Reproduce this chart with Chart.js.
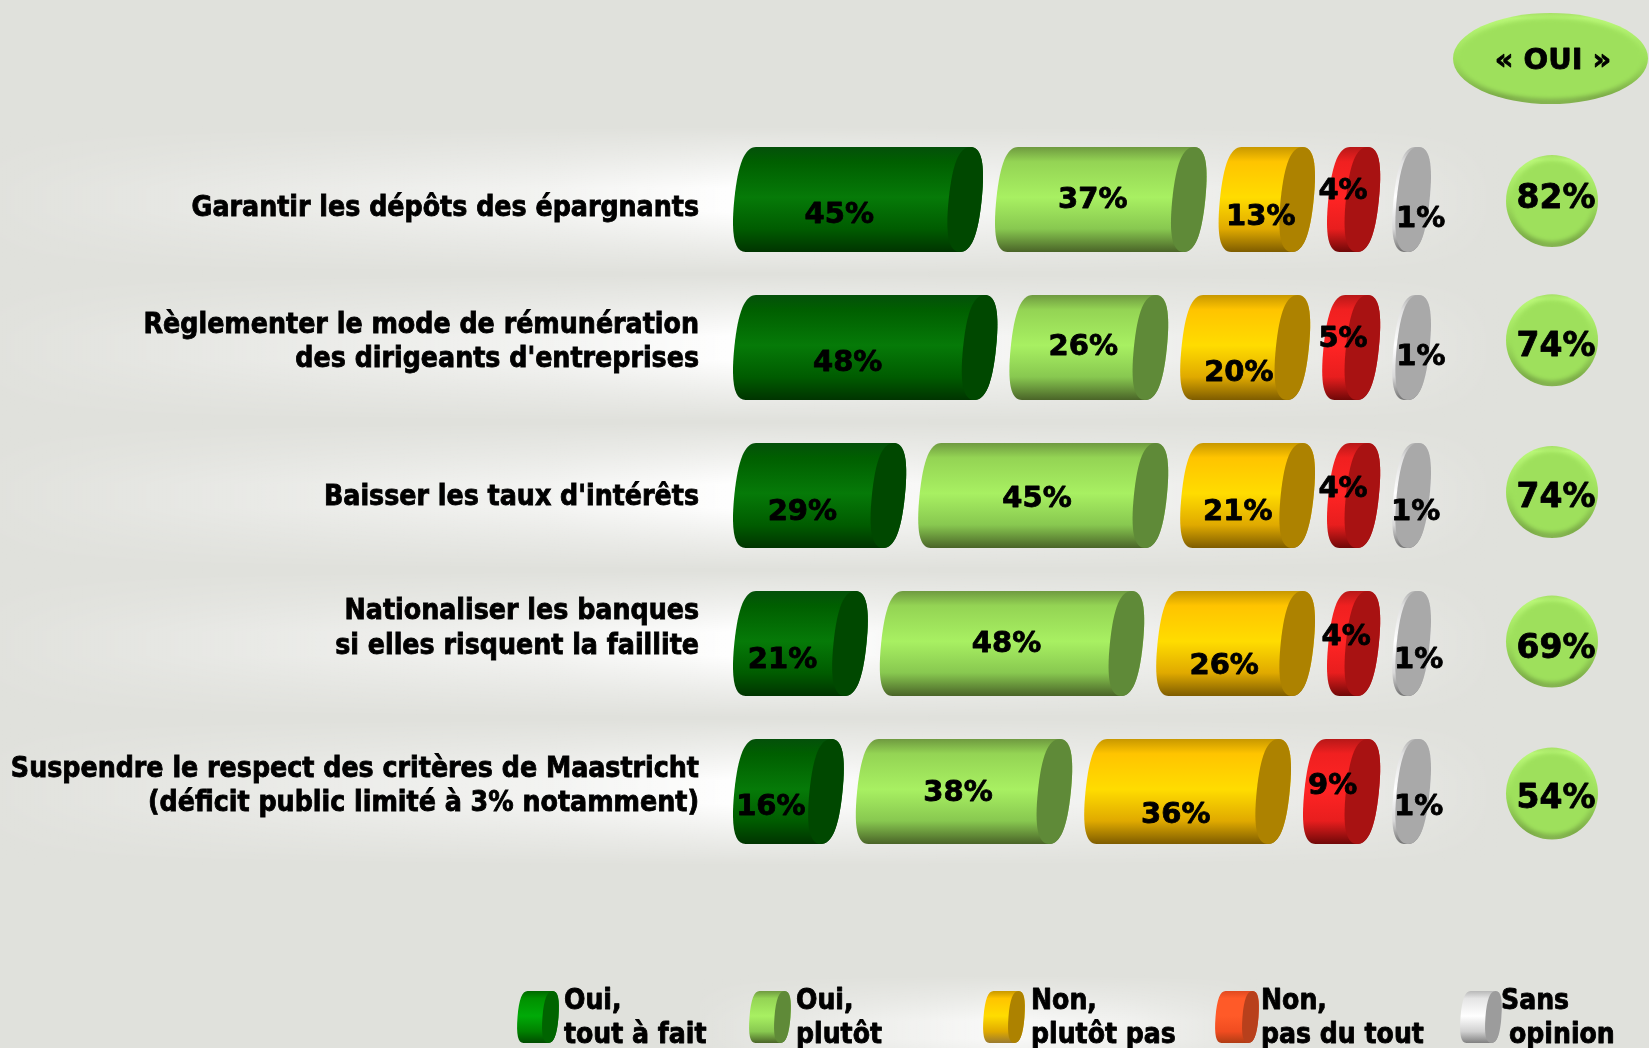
<!DOCTYPE html>
<html lang="fr">
<head>
<meta charset="utf-8">
<title>Mesures bancaires</title>
<style>html,body{margin:0;padding:0;background:#e0e1dc;overflow:hidden}canvas{display:block}</style>
<script src="https://cdn.jsdelivr.net/npm/chart.js@4"></script>
</head>
<body>
<canvas id="c" width="1649" height="1048"></canvas>
<script>
// ---- data ----
const categories = [
  ["Garantir les dépôts des épargnants"],
  ["Règlementer le mode de rémunération", "des dirigeants d'entreprises"],
  ["Baisser les taux d'intérêts"],
  ["Nationaliser les banques", "si elles risquent la faillite"],
  ["Suspendre le respect des critères de Maastricht", "(déficit public limité à 3% notamment)"]
];
const ouiToutAFait = [45, 48, 29, 21, 16];
const ouiPlutot    = [37, 26, 45, 48, 38];
const nonPlutotPas = [13, 20, 21, 26, 36];
const nonPasDuTout = [4, 5, 4, 4, 9];
const sansOpinion  = [1, 1, 1, 1, 1];
const totalOui     = [82, 74, 74, 69, 54];
const seriesNames  = ["Oui, tout à fait", "Oui, plutôt", "Non, plutôt pas", "Non, pas du tout", "Sans opinion"];
const legendLines  = [["Oui,", "tout à fait"], ["Oui,", "plutôt"], ["Non,", "plutôt pas"], ["Non,", "pas du tout"], ["Sans", "opinion"]];
const headerText   = "« OUI »";

// ---- styling ----
const series = [ouiToutAFait, ouiPlutot, nonPlutotPas, nonPasDuTout, sansOpinion];
const baseColors = ["#006e04", "#a4ec60", "#ffd000", "#ff2020", "#e8e8e8"];
const themes = {
  "#006e04": {stops:["#04500a","#005f00","#067a08","#005c00","#003400"], cap:"#004800"},
  "#a4ec60": {stops:["#6f9a40","#94d454","#a8f062","#88c850","#4a6428"], cap:"#5f8a38"},
  "#ffd000": {stops:["#c89800","#ffc400","#ffdc00","#e0aa00","#7e5c00"], cap:"#ad8200"},
  "#ff2020": {stops:["#b81818","#f02020","#ff2424","#e81e1e","#700808"], cap:"#a81212"},
  "#e8e8e8": {stops:["#b0b0b0","#e0e0e0","#ffffff","#d8d8d8","#707070"], cap:"#a9a9a9"}
};
const legendThemes = [
  {stops:["#006800","#009000","#00aa08","#008000","#004c00"], cap:"#006400"},
  {stops:["#6f9a40","#94d454","#a8f062","#88c850","#4a6428"], cap:"#5f8a38"},
  {stops:["#c89800","#ffc400","#ffdc00","#e0aa00","#9a7a30"], cap:"#ad8200"},
  {stops:["#e04a20","#ff5a28","#ff5a28","#f04c20","#b03c14"], cap:"#b8401c"},
  {stops:["#b8b8b8","#e4e4e4","#ffffff","#d0d0d0","#808080"], cap:"#9c9c9c"}
];
const pxPerUnit = 4.8, capPx = 34, gapPx = 12, plotLeft = 733;
const capUnits = capPx / pxPerUnit, gapUnits = gapPx / pxPerUnit;
const xMax = (1649 - plotLeft) / pxPerUnit;
const categoryFont = "'DejaVu Sans Condensed'";
const tickNudge = [9, -5, 2.5, -14.5, -5];
// label offsets from each bar's middle (rows × series), as placed in the picture
const labelDx = [[-18.7,-8,-6,-10.6,9],[-17.5,-5.5,-6.3,-8.2,9.3],[-17.2,-6.2,-9.8,-10.6,4],[-17.9,-5.5,-11.4,-7.4,7],[-17.5,-6,-11.8,-9,7]];
const labelDy = [[16,1,18,-8,20],[16,0,26,-8,9.5],[16.5,4,16.5,-6.5,16.5],[17,1,23,-6,17],[16,2,24,-5.5,16]];
const circleDy = [1.4, -7.3, -3.5, -2, 2];
const circleTextDy = [-1, 7.4, 6.4, 8.4, 6.4];
const circleX = 1552, circleR = 46;
const legendIconX = [[517,559],[749,791],[983,1025],[1215,1259],[1460,1502]];
const legendTextX = [[564,564],[796,796],[1031,1031],[1261,1261],[1501,1509]];

// floating ranges for the bars: each bar holds its value plus the round end, with a gap before the next
const ranges = series.map(() => []);
categories.forEach((_, r) => {
  let cum = 0;
  series.forEach((s, i) => {
    const start = cum + i * (capUnits + gapUnits);
    ranges[i].push([start, start + s[r] + capUnits]);
    cum += s[r];
  });
});

function heavyText(ctx, text, x, y) {
  ctx.lineWidth = 0.8;
  ctx.strokeStyle = "#000";
  ctx.lineJoin = "round";
  ctx.strokeText(text, x, y);
  ctx.fillText(text, x, y);
}

const KAPPA = 0.68;
function rightArc(ctx, cx, rx, ry) {
  ctx.bezierCurveTo(cx + rx * KAPPA, -ry, cx + rx, -ry * KAPPA, cx + rx, 0);
  ctx.bezierCurveTo(cx + rx, ry * KAPPA, cx + rx * KAPPA, ry, cx, ry);
}
function leftArc(ctx, cx, rx, ry) {
  ctx.bezierCurveTo(cx - rx * KAPPA, ry, cx - rx, ry * KAPPA, cx - rx, 0);
  ctx.bezierCurveTo(cx - rx, -ry * KAPPA, cx - rx * KAPPA, -ry, cx, -ry);
}

function cylinder(ctx, x0, x1, cy, H, theme, rx, k) {
  const e = rx + k * H / 8;
  const xa = x0 + e, xb = Math.max(x1 - e, xa);
  const ry = H / 2;
  ctx.save();
  ctx.translate(0, cy);
  ctx.transform(1, 0, -k, 1, 0, 0);
  const g = ctx.createLinearGradient(0, -ry, 0, ry);
  [0, 0.14, 0.48, 0.78, 1].forEach((p, i) => g.addColorStop(p, theme.stops[i]));
  ctx.beginPath();
  ctx.moveTo(xa, -ry);
  ctx.lineTo(xb, -ry);
  rightArc(ctx, xb, rx, ry);
  ctx.lineTo(xa, ry);
  leftArc(ctx, xa, rx, ry);
  ctx.closePath();
  ctx.fillStyle = g;
  ctx.fill();
  ctx.beginPath();
  ctx.moveTo(xb, -ry);
  rightArc(ctx, xb, rx, ry);
  leftArc(ctx, xb, rx, ry);
  ctx.closePath();
  ctx.fillStyle = theme.cap;
  ctx.fill();
  ctx.restore();
}

// the library's bar element draws a cylinder from its own computed geometry
Chart.BarElement.prototype.draw = function (ctx) {
  const {x, y, base, height} = this.getProps(["x", "y", "base", "height"]);
  const theme = themes[this.options.backgroundColor];
  cylinder(ctx, Math.min(x, base), Math.max(x, base), y, height, theme, 16.5, 0.1);
};

function band(ctx, x, y, w, h, peakX, power) {
  const off = document.createElement("canvas");
  off.width = w; off.height = h;
  const o = off.getContext("2d");
  const hg = o.createLinearGradient(0, 0, w, 0);
  const p = peakX / w;
  hg.addColorStop(0, "rgba(255,255,255,0.05)");
  hg.addColorStop(p * 0.35, "rgba(255,255,255,0.3)");
  hg.addColorStop(p * 0.75, "rgba(255,255,255,0.6)");
  hg.addColorStop(p, "rgba(255,255,255," + power + ")");
  hg.addColorStop(p + (1 - p) * 0.5, "rgba(255,255,255,0.55)");
  hg.addColorStop(p + (1 - p) * 0.85, "rgba(255,255,255,0.25)");
  hg.addColorStop(1, "rgba(255,255,255,0)");
  o.fillStyle = hg;
  o.fillRect(0, 0, w, h);
  o.globalCompositeOperation = "destination-in";
  const vg = o.createLinearGradient(0, 0, 0, h);
  vg.addColorStop(0, "rgba(0,0,0,0)");
  vg.addColorStop(0.2, "rgba(0,0,0,0.45)");
  vg.addColorStop(0.42, "rgba(0,0,0,1)");
  vg.addColorStop(0.58, "rgba(0,0,0,1)");
  vg.addColorStop(0.8, "rgba(0,0,0,0.45)");
  vg.addColorStop(1, "rgba(0,0,0,0)");
  o.fillStyle = vg;
  o.fillRect(0, 0, w, h);
  ctx.drawImage(off, x, y);
}

function bevelEllipse(ctx, cx, cy, rx, ry) {
  ctx.save();
  const g = ctx.createLinearGradient(0, cy - ry, 0, cy + ry);
  g.addColorStop(0, "#a6e066");
  g.addColorStop(0.06, "#baf878");
  g.addColorStop(0.5, "#9ee05c");
  g.addColorStop(0.92, "#7cac48");
  g.addColorStop(1, "#86b452");
  ctx.beginPath();
  ctx.ellipse(cx, cy, rx, ry, 0, 0, Math.PI * 2);
  ctx.fillStyle = g;
  ctx.fill();
  ctx.clip();
  ctx.filter = "blur(2px)";
  ctx.beginPath();
  ctx.ellipse(cx, cy, rx - 5, ry - 5, 0, 0, Math.PI * 2);
  ctx.fillStyle = "#9ee05c";
  ctx.fill();
  ctx.restore();
}

const decor = {
  id: "decor",
  beforeDraw(chart) {
    const {ctx} = chart;
    ctx.save();
    ctx.fillStyle = "#e0e1dc";
    ctx.fillRect(0, 0, chart.width, chart.height);
    const yScale = chart.scales.y;
    categories.forEach((_, i) => {
      const cy = yScale.getPixelForTick(i);
      band(ctx, 0, Math.round(cy - 74), 1500, 148, 730, 0.97);
    });
    band(ctx, 700, 975, 560, 110, 300, 0.8);
    ctx.restore();
    // move the tick labels to the heights they have in the picture
    const items = yScale.getLabelItems();
    if (!items._nudged) {
      items.forEach((it, i) => { it.options.translation[1] += tickNudge[i]; });
      items._nudged = true;
    }
  },
  afterDatasetsDraw(chart) {
    const {ctx} = chart;
    const yScale = chart.scales.y;
    ctx.save();
    ctx.fillStyle = "#000";
    ctx.textAlign = "center";
    ctx.textBaseline = "middle";
    ctx.font = "bold 29px 'DejaVu Sans'";
    series.forEach((s, i) => {
      const meta = chart.getDatasetMeta(i);
      s.forEach((v, r) => {
        const el = meta.data[r];
        const mid = (el.x + el.base) / 2;
        heavyText(ctx, v + "%", mid + labelDx[r][i], el.y + labelDy[r][i]);
      });
    });
    // total column
    totalOui.forEach((v, r) => {
      const cy = yScale.getPixelForTick(r) + circleDy[r];
      bevelEllipse(ctx, circleX, cy, circleR, circleR);
      ctx.fillStyle = "#000";
      ctx.font = "bold 33px 'DejaVu Sans'";
      heavyText(ctx, v + "%", circleX + 4, cy + circleTextDy[r]);
    });
    // header pill
    bevelEllipse(ctx, 1550.5, 58.5, 97.5, 45.5);
    ctx.fillStyle = "#000";
    ctx.font = "bold 29px 'DejaVu Sans'";
    heavyText(ctx, headerText, 1553, 61);
    // legend
    ctx.textAlign = "left";
    ctx.textBaseline = "alphabetic";
    ctx.font = "bold 28px " + categoryFont;
    legendLines.forEach((lines, i) => {
      cylinder(ctx, legendIconX[i][0], legendIconX[i][1], 1017, 52, legendThemes[i], 8, 0.08);
      ctx.fillStyle = "#000";
      heavyText(ctx, lines[0], legendTextX[i][0], 1009);
      heavyText(ctx, lines[1], legendTextX[i][1], 1043);
    });
    ctx.restore();
  }
};

new Chart(document.getElementById("c"), {
  type: "bar",
  data: {
    labels: categories,
    datasets: seriesNames.map((name, i) => ({
      label: name,
      data: ranges[i],
      backgroundColor: baseColors[i],
      grouped: false,
      categoryPercentage: 1,
      barPercentage: 105 / 148
    }))
  },
  plugins: [decor],
  options: {
    indexAxis: "y",
    responsive: false,
    animation: false,
    layout: {padding: {left: 0, right: 0, top: 125.5, bottom: 182.5}},
    plugins: {legend: {display: false}, tooltip: {enabled: false}, title: {display: false}},
    scales: {
      x: {type: "linear", display: false, min: 0, max: xMax, grid: {display: false}},
      y: {
        type: "category",
        grid: {display: false},
        border: {display: false},
        afterFit(scale) { scale.width = plotLeft; },
        ticks: {
          autoSkip: false,
          padding: 26,
          color: "#000",
          textStrokeColor: "#000",
          textStrokeWidth: 0.8,
          font: {family: categoryFont, weight: "bold", size: 28.2, lineHeight: 1.22}
        }
      }
    }
  }
});
</script>
</body>
</html>
